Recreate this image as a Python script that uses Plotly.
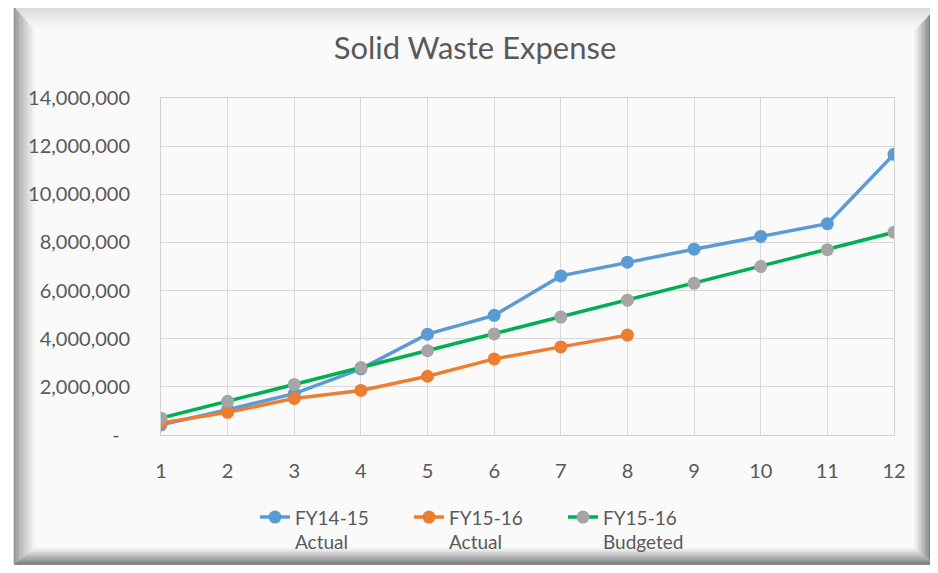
import plotly.graph_objects as go

# ---------------- data ----------------
months = [1, 2, 3, 4, 5, 6, 7, 8, 9, 10, 11, 12]
fy1415_actual = [420000, 1050000, 1720000, 2750000, 4190000, 4970000,
                 6610000, 7180000, 7720000, 8250000, 8780000, 11660000]
fy1516_actual = [500000, 940000, 1520000, 1850000, 2440000, 3160000,
                 3660000, 4150000]
fy1516_budget = [700000, 1400000, 2100000, 2800000, 3500000, 4200000,
                 4900000, 5600000, 6300000, 7000000, 7700000, 8420000]
series_names = ["FY14-15<br>Actual", "FY15-16<br>Actual", "FY15-16<br>Budgeted"]
y_tickvals = [0, 2000000, 4000000, 6000000, 8000000, 10000000, 12000000, 14000000]
y_ticktext = ["-\u00a0\u00a0", "2,000,000", "4,000,000", "6,000,000", "8,000,000",
              "10,000,000", "12,000,000", "14,000,000"]
title_text = "Solid Waste Expense"

# ---------------- layout geometry ----------------
# page body has an 8px default margin; work in screen px and shift
OFF = 8
SW, SH = 938, 573
W, H = SW - OFF, SH - OFF
# plot area in screen px
PX0, PX1, PY0, PY1 = 161, 894, 98, 439
L, R, T, B = PX0 - OFF, SW - PX1, PY0 - OFF, SH - PY1
PW, PH = PX1 - PX0, PY1 - PY0
FONT = "Lato, 'Open Sans', sans-serif"
TXT = "#595959"


def px(x):
    return (x - PX0) / PW


def py(y):
    return (PY1 - y) / PH


def lerp(a, b, t):
    return a + (b - a) * t


def hexlerp(c1, c2, t):
    a = [int(c1[i:i + 2], 16) for i in (1, 3, 5)]
    b = [int(c2[i:i + 2], 16) for i in (1, 3, 5)]
    return "#" + "".join("%02x" % int(round(lerp(a[k], b[k], t))) for k in range(3))


fig = go.Figure()
fig.add_trace(go.Scatter(x=months, y=fy1415_actual, name=series_names[0],
                         mode="lines+markers",
                         line=dict(color="#5b9bd5", width=3.5),
                         marker=dict(color="#5b9bd5", size=13)))
fig.add_trace(go.Scatter(x=months[:len(fy1516_actual)], y=fy1516_actual,
                         name=series_names[1], mode="lines+markers",
                         line=dict(color="#ed7d31", width=3.5),
                         marker=dict(color="#ed7d31", size=13)))
fig.add_trace(go.Scatter(x=months, y=fy1516_budget, name=series_names[2],
                         mode="lines+markers",
                         line=dict(color="#00b050", width=3.5),
                         marker=dict(color="#a5a5a5", size=13)))

# ---------------- frame (bevel) ----------------
shapes = []
O = (14, 6, 937, 570)   # outer x0,y0,x1,y1 in screen px
I = (35, 30, 915, 553)  # inner face
shapes.append(dict(type="rect", xref="paper", yref="paper",
                   x0=px(I[0]), x1=px(I[2]), y0=py(I[3]), y1=py(I[1]),
                   fillcolor="#fafafa", line=dict(width=0), layer="below"))
N = 16
side_cols = {
    "top": ("#d4d4d4", "#fbfbfb"),
    "left": ("#8c8c8c", "#f7f7f7"),
    "right": ("#2e2e2e", "#f2f2f2"),
    "bottom": ("#666666", "#f7f7f7"),
}


def rect_at(t):
    return tuple(lerp(O[k], I[k], t) for k in range(4))


for i in range(N):
    t0, t1 = i / N, (i + 1) / N
    a = rect_at(t0)
    b = rect_at(t1)
    tc = ((i + 0.5) / N) ** 0.8
    polys = {
        "top": [(a[0], a[1]), (a[2], a[1]), (b[2], b[1]), (b[0], b[1])],
        "bottom": [(a[0], a[3]), (a[2], a[3]), (b[2], b[3]), (b[0], b[3])],
        "left": [(a[0], a[1]), (b[0], b[1]), (b[0], b[3]), (a[0], a[3])],
        "right": [(a[2], a[1]), (b[2], b[1]), (b[2], b[3]), (a[2], a[3])],
    }
    for side, pts in polys.items():
        c = hexlerp(side_cols[side][0], side_cols[side][1], tc)
        path = "M " + " L ".join("%.5f,%.5f" % (px(x), py(y)) for x, y in pts) + " Z"
        shapes.append(dict(type="path", xref="paper", yref="paper", path=path,
                           fillcolor=c, line=dict(width=0.6, color=c), layer="below"))

fig.update_layout(
    width=W, height=H, autosize=False,
    margin=dict(l=L, r=R, t=T, b=B, pad=0),
    paper_bgcolor="#ffffff", plot_bgcolor="rgba(0,0,0,0)",
    font=dict(family=FONT, color=TXT, size=19),
    title=dict(text=title_text, x=(475 - OFF) / W, xanchor="center", xref="container",
               y=1 - (48 - OFF) / H, yanchor="middle", yref="container",
               font=dict(size=31, color=TXT, family=FONT)),
    shapes=shapes,
    showlegend=True,
    legend=dict(orientation="h", x=px(255), xanchor="left", y=py(503), yanchor="top",
                valign="top", bgcolor="rgba(0,0,0,0)", font=dict(size=19, color=TXT),
                entrywidth=109, entrywidthmode="pixels", tracegroupgap=0),
    xaxis=dict(range=[1, 12], tickmode="array", tickvals=months,
               showgrid=True, gridcolor="#d9d9d9", gridwidth=1,
               showline=True, linecolor="#d0d0d0", linewidth=1, mirror=True,
               zeroline=False, ticks="", ticklabelstandoff=18,
               tickfont=dict(size=20, color=TXT)),
    yaxis=dict(range=[0, 14000000], tickmode="array", tickvals=y_tickvals,
               ticktext=y_ticktext, showgrid=True, gridcolor="#d9d9d9", gridwidth=1,
               showline=True, linecolor="#d0d0d0", linewidth=1, mirror=True,
               zeroline=False, ticks="", ticklabelstandoff=26,
               tickfont=dict(size=20, color=TXT)),
)

fig.write_html("out.html")
